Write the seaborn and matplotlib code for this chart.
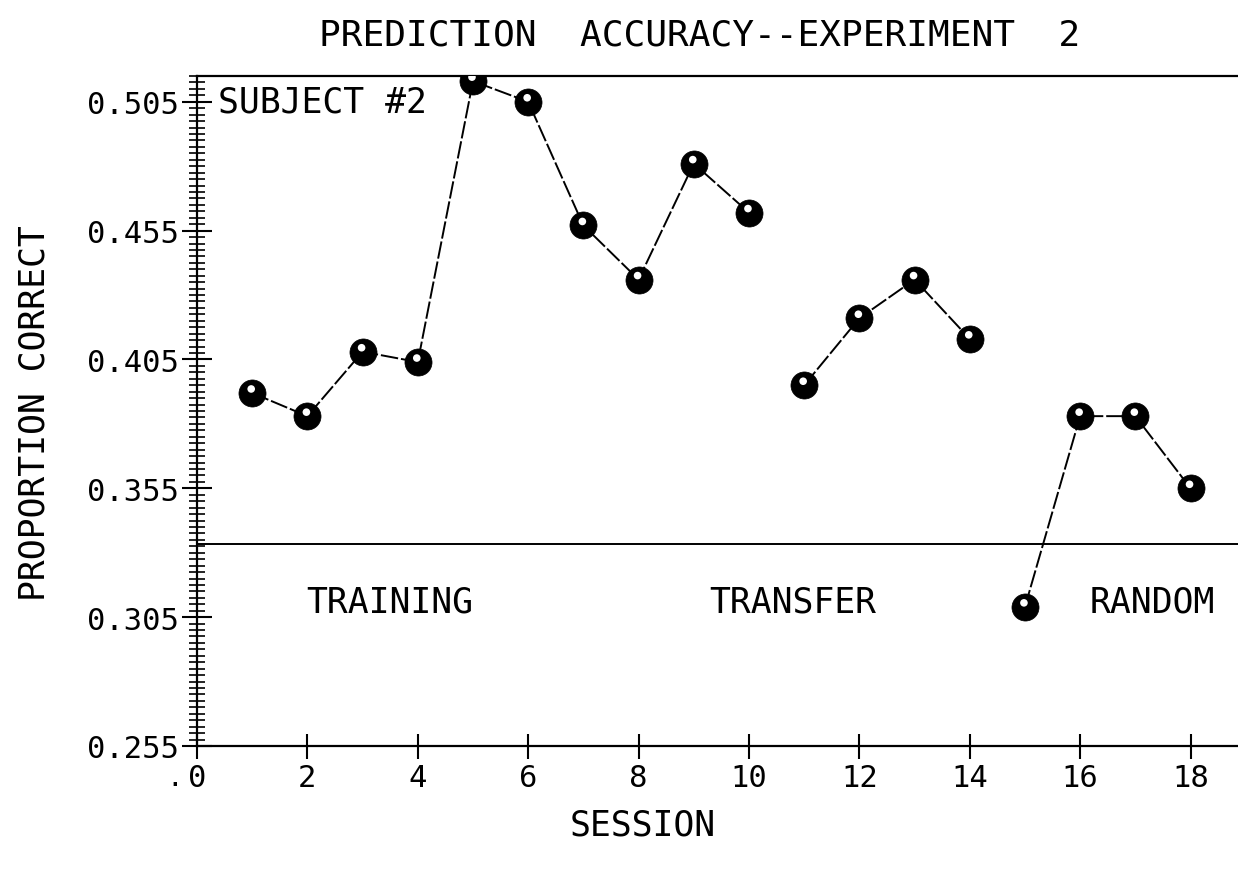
import numpy as np
import pandas as pd
import matplotlib
matplotlib.use("Agg")
import matplotlib.pyplot as plt
from matplotlib.ticker import MultipleLocator, FixedLocator
from matplotlib.transforms import ScaledTranslation
import seaborn as sns

# Session-by-session prediction accuracy for one subject
sessions = list(range(1, 19))
proportion_correct = [0.392, 0.383, 0.408, 0.404, 0.513, 0.505, 0.457, 0.436, 0.481, 0.462,
                      0.395, 0.421, 0.436, 0.413,
                      0.309, 0.383, 0.383, 0.355]
phases = ["TRAINING"] * 10 + ["TRANSFER"] * 4 + ["RANDOM"] * 4
chance_level = 1 / 3

y_ticks = [0.255, 0.305, 0.355, 0.405, 0.455, 0.505]
y_tick_labels = ["0.255", "0.305", "0.355", "0.405", "0.455", "0.505"]
x_ticks = [0, 2, 4, 6, 8, 10, 12, 14, 16, 18]

df = pd.DataFrame({"session": sessions, "proportion": proportion_correct, "phase": phases})

sns.set_theme(style="white")
plt.rcParams["font.family"] = ["DejaVu Sans Mono", "DejaVu Sans"]

W, H = 1238, 870
fig = plt.figure(figsize=(W / 100, H / 100), dpi=100)
ax = fig.add_axes([197 / W, 123 / H, 1041 / W, 670 / H])

# connecting lines within each phase
sns.lineplot(data=df, x="session", y="proportion", units="phase", estimator=None,
             color="black", lw=1.4, ax=ax, legend=False, sort=False,
             dashes=False, linestyle=(0, (9, 1.5)))
# solid session markers
sns.scatterplot(data=df, x="session", y="proportion", color="black", s=380,
                edgecolor="black", linewidth=0.5, ax=ax, legend=False, zorder=3)
# small glint on each marker
glint = ax.transData + ScaledTranslation(-1 / 100, 4 / 100, fig.dpi_scale_trans)
ax.scatter(df["session"], df["proportion"], s=30, color="white", edgecolor="none",
           transform=glint, zorder=4)

ax.axhline(chance_level, color="black", lw=1.4, zorder=1)

ax.set_xlim(0, 18.86)
ax.set_ylim(0.255, 0.515)

ax.spines["right"].set_visible(False)
for side in ("left", "bottom", "top"):
    ax.spines[side].set_visible(True)
    ax.spines[side].set_color("black")
    ax.spines[side].set_linewidth(1.6)

ax.xaxis.set_major_locator(FixedLocator(x_ticks))
ax.set_xticklabels([str(t) for t in x_ticks])
ax.yaxis.set_major_locator(FixedLocator(y_ticks))
ax.set_yticklabels(y_tick_labels)
ax.yaxis.set_minor_locator(MultipleLocator(0.0025))

ax.tick_params(axis="x", which="major", direction="inout", length=18, width=1.5,
               colors="black", labelsize=22, pad=3, bottom=True, top=False)
ax.tick_params(axis="y", which="major", direction="inout", length=22, width=1.5,
               colors="black", labelsize=22, pad=2, left=True, right=False)
ax.tick_params(axis="y", which="minor", direction="inout", length=12, width=1.2,
               colors="black", left=True, right=False)
ax.set_xlabel("")
ax.set_ylabel("")

ax.text(-0.4, -0.025, ".", transform=ax.get_xaxis_transform(), ha="center", va="top",
        fontsize=20, color="black")

ax.text(0.38, 0.505, "SUBJECT #2", fontsize=25, ha="left", va="center", color="black")
ax.text(3.5, 0.311, "TRAINING", fontsize=25, ha="center", va="center", color="black")
ax.text(10.8, 0.311, "TRANSFER", fontsize=25, ha="center", va="center", color="black")
ax.text(17.3, 0.311, "RANDOM", fontsize=25, ha="center", va="center", color="black")

fig.text(700 / W, 1 - 35 / H, "PREDICTION  ACCURACY--EXPERIMENT  2", fontsize=26,
         ha="center", va="center", color="black")
fig.text(35 / W, 1 - 413 / H, "PROPORTION CORRECT", fontsize=25, rotation=90,
         ha="center", va="center", color="black")
fig.text(643 / W, 1 - 826 / H, "SESSION", fontsize=25, ha="center", va="center",
         color="black")

fig.savefig("out.png", dpi=100, facecolor="white")
